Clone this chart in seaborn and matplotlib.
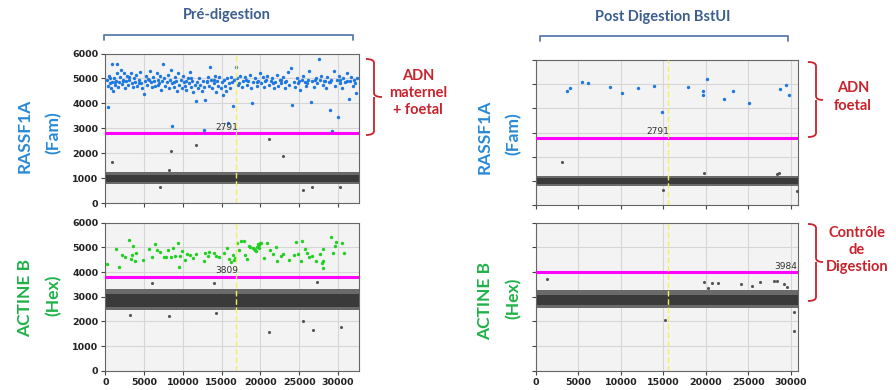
import matplotlib
matplotlib.use("Agg")
import matplotlib.pyplot as plt
import seaborn as sns
from matplotlib.path import Path
from matplotlib.patches import PathPatch
from matplotlib.lines import Line2D

# ---------------- data ----------------
x_ticks = [0, 5000, 10000, 15000, 20000, 25000, 30000]
y_ticks = [0, 1000, 2000, 3000, 4000, 5000, 6000]

# Pre-digestion, RASSF1A (Fam) positive droplets
pre_fam_pos_x = [200, 350, 420, 560, 700, 820, 900, 1000, 1100, 1200, 1350, 1450, 1550, 1650, 1800, 1900,
                 2000, 2100, 2250, 2400, 2550, 2650, 2800, 2950, 3100, 3250, 3400, 3550, 3700, 3850, 4000,
                 4150, 4300, 4450, 4600, 4750, 4990, 5100, 5250, 5400, 5550, 5700, 5850, 6000, 6150, 6300,
                 6450, 6600, 6750, 6900, 7050, 7200, 7350, 7480, 7600, 7750, 7900, 8050, 8200, 8350, 8500,
                 8650, 8800, 8950, 9100, 9250, 9400, 9550, 9700, 9850, 10000, 10150, 10300, 10450, 10600,
                 10750, 10900, 11050, 11200, 11350, 11500, 11660, 11800, 11950, 12100, 12250, 12400, 12550,
                 12700, 12900, 13050, 13200, 13350, 13500, 13650, 13800, 13950, 14100, 14250, 14400, 14550,
                 14700, 14850, 15000, 15150, 15300, 15450, 15600, 15750, 15900, 16050, 16200, 16350, 16510,
                 16650, 16830, 17000, 17200, 17400, 17600, 17800, 18000, 18200, 18400, 18600, 18800, 18960,
                 19100, 19300, 19500, 19700, 19900, 20100, 20300, 20500, 20700, 20900, 21100, 21300, 21500,
                 21700, 21900, 22100, 22300, 22500, 22700, 22900, 23100, 23300, 23500, 23700, 23900, 24120,
                 24300, 24500, 24700, 24900, 25100, 25300, 25500, 25700, 25900, 26100, 26300, 26500, 26700,
                 26900, 27100, 27300, 27480, 27650, 27800, 28000, 28200, 28400, 28600, 28800, 28990, 29100,
                 29280, 29450, 29600, 29800, 29930, 30100, 30300, 30500, 30700, 30900, 31100, 31350, 31500,
                 31700, 31900, 32100, 32340, 32500, 8560, 12730, 15790, 390,
                 600, 1300, 2300, 3000, 4400, 5600, 6800, 8900, 10400, 11100, 13100, 14000, 17100, 18100,
                 19600, 20600, 21600, 22600, 23200, 25000, 26000, 27000, 28300, 29000, 30200, 31200, 32200]
pre_fam_pos_y = [4950, 4700, 5100, 4800, 4600, 4850, 5566, 4500, 5000, 4750, 4900, 5200, 5566, 4650, 4850, 5050,
                 5330, 4780, 4950, 5200, 4600, 4880, 5100, 4720, 4950, 5200, 4800, 4650, 5000, 4850, 5150,
                 4700, 4950, 5250, 4800, 4600, 4378, 4900, 5100, 4750, 4980, 5300, 4850, 4650, 5050, 4900,
                 4700, 5200, 4950, 4800, 5100, 4550, 4880, 5566, 5000, 4700, 4850, 5150, 4600, 4950, 5330,
                 4800, 4650, 5050, 4900, 4500, 5200, 4750, 4950, 4600, 5100, 4850, 4700, 4550, 5000,
                 4800, 5250, 4650, 4900, 4450, 4750, 4107, 4850, 4600, 5000, 4750, 4500, 4900,
                 4650, 4130, 4850, 5050, 4700, 5460, 4950, 4600, 4800, 5100, 4450, 4900, 4700,
                 5050, 4600, 4850, 4350, 4950, 4700, 4500, 5000, 4800, 4600, 5050, 4850, 3905,
                 4950, 5460, 5000, 4800, 5100, 4650, 4900, 5050, 4750, 4900, 5150, 4600, 3997,
                 4850, 5000, 4700, 4900, 5200, 4800, 5050, 4650, 4950, 5100, 4750, 4900, 5000,
                 4600, 4850, 5150, 4700, 4950, 4800, 5050, 4600, 4900, 5250, 4750, 5400, 3932,
                 4850, 4650, 5000, 4800, 4550, 4950, 5100, 4850, 4700, 4950, 5300, 4040, 4900,
                 4650, 5000, 4800, 5768, 4950, 5100, 4750, 4900, 4600, 5050, 4850, 3730, 4950,
                 2890, 5300, 4700, 4950, 3432, 5100, 4800, 4600, 5000, 4850, 5200, 4175, 4900,
                 5050, 4700, 4950, 4405, 5000, 3093, 2918, 3230, 3860,
                 5000, 4850, 4900, 5050, 4800, 4950, 4750, 4850, 4900, 5000, 4900, 4950, 4750, 4950,
                 4850, 4900, 4800, 4950, 4850, 4900, 4800, 4950, 4900, 4850, 4950, 4900, 4800]
pre_fam_neg_x = [900, 8490, 11660, 21120, 22840, 25540, 26700, 30300, 7060, 8220]
pre_fam_neg_y = [1650, 2067, 2310, 2554, 1905, 527, 660, 640, 660, 1310]

# Pre-digestion, ACTINE B (Hex) positive droplets
pre_hex_pos_x = [260, 1380, 1760, 2150, 3060, 3320, 3590, 3480, 3960, 3880, 4810, 5670, 6010, 6440, 6660,
                 7520, 7820, 8080, 8470, 8730, 9030, 9370, 9480, 9650, 9870, 10210, 10510, 11290, 11670,
                 12750, 12880, 13180, 13400, 13960, 14600, 15250, 15680, 15900, 16410, 16540, 16670,
                 16970, 17190, 17490, 17840, 17970, 18270, 18490, 18700, 19220, 19350, 19570, 19700,
                 19870, 20000, 20130, 20440, 20870, 21210, 21640, 21990, 22160, 22590, 22940, 23670,
                 24620, 24880, 25400, 25270, 25790, 25960, 26310, 27170, 27730, 28030, 28120, 28120,
                 29110, 29330, 29670, 29760, 30490, 30710, 2600, 7000, 10900, 14300, 16200, 19100, 19450,
                 19800, 24300, 26600, 27900]
pre_hex_pos_y = [4324, 4919, 4216, 4690, 5297, 4513, 5054, 4690, 4784, 4460, 4486, 4919, 4620, 5149, 4892,
                 4595, 4620, 4890, 4620, 4960, 4650, 5189, 4216, 4662, 4865, 4486, 4716, 4554, 4730,
                 4460, 4784, 4662, 4824, 4757, 4595, 4757, 4959, 4513, 4690, 4486, 4581,
                 5162, 4892, 5257, 5257, 4690, 4513, 5067, 5000, 4919, 4892, 5027, 5135,
                 4960, 5162, 5189, 4554, 5162, 4892, 4730, 5027, 4460, 4650, 4716, 4486,
                 5230, 4730, 5257, 4460, 4919, 4784, 4595, 4460, 4730, 4919, 4460, 4149,
                 5405, 4757, 5054, 5230, 5162, 4757, 4600, 4820, 4700, 4650, 4420, 4980, 4850,
                 5080, 4700, 4640, 4380]
pre_hex_neg_x = [6070, 13960, 27260, 3150, 8190, 14210, 21160, 25520, 26770, 30330]
pre_hex_neg_y = [3568, 3568, 3608, 2257, 2230, 2351, 1581, 2027, 1649, 1757]

# Post digestion BstUI, RASSF1A (Fam)
post_fam_pos_x = [3690, 4000, 5460, 6170, 8720, 10100, 11990, 13950, 14900, 17850, 19620, 19730, 20130,
                  22100, 23200, 25080, 28780, 29410, 29800]
post_fam_pos_y = [4738, 4834, 5097, 5069, 4876, 4628, 4834, 4931, 3869, 4876, 4559, 4710, 5207,
                  4407, 4710, 4214, 4821, 4986, 4559]
post_fam_neg_x = [3100, 19800, 28580, 28400, 15000, 30700]
post_fam_neg_y = [1772, 1345, 1345, 1300, 630, 586]

# Post digestion BstUI, ACTINE B (Hex)
post_hex_neg_x = [1260, 15150, 19750, 20260, 20730, 21440, 24190, 25490, 26350, 28010, 28390, 29180,
                  29570, 30360, 30360]
post_hex_neg_y = [3716, 2054, 3595, 3338, 3541, 3554, 3527, 3446, 3581, 3622, 3635, 3500,
                  3405, 2365, 1608]

# Dense negative-droplet clusters: (outer low, outer high, core low, core high)
pre_fam_band = [760, 1260, 860, 1120]
pre_hex_band = [2460, 3330, 2600, 3120]
post_fam_band = [770, 1220, 850, 1100]
post_hex_band = [2530, 3270, 2660, 3060]

thresholds = [2791, 3809, 2791, 3984]
threshold_labels = ["2791", "3809", "2791", "3984"]
x_max = [32700, 32700, 30900, 30900]
cursor_x = [16900, 16900, 15500, 15500]

# ---------------- style ----------------
sns.set_theme(style="whitegrid")
plt.rcParams['font.family'] = ['Lato', 'DejaVu Sans']

W, H = 896, 390
fig = plt.figure(figsize=(W / 100, H / 100), dpi=100)
fig.patch.set_facecolor("white")


def ax_at(l, t, r, b):
    return fig.add_axes([l / W, 1 - b / H, (r - l) / W, (b - t) / H])


def px(x, y):
    return (x / W, 1 - y / H)


BLUE_PT = "#1f78e0"
GREEN_PT = "#22d022"
GREY_PT = "#555555"

axes = [ax_at(105.3, 53.5, 359, 203), ax_at(105.3, 222.7, 359, 370.7),
        ax_at(536, 60.2, 798.3, 205), ax_at(536, 222.7, 798.3, 370.7)]

pos_sets = [(pre_fam_pos_x, pre_fam_pos_y, BLUE_PT), (pre_hex_pos_x, pre_hex_pos_y, GREEN_PT),
            (post_fam_pos_x, post_fam_pos_y, BLUE_PT), ([], [], GREEN_PT)]
neg_sets = [(pre_fam_neg_x, pre_fam_neg_y), (pre_hex_neg_x, pre_hex_neg_y),
            (post_fam_neg_x, post_fam_neg_y), (post_hex_neg_x, post_hex_neg_y)]
bands = [pre_fam_band, pre_hex_band, post_fam_band, post_hex_band]
label_pos = [(15650, "center"), (15600, "center"), (14300, "center"), (30750, "right")]

for i, ax in enumerate(axes):
    ax.set_facecolor("#f3f3f3")
    ax.set_xlim(0, x_max[i])
    ax.set_ylim(0, 6000)
    ax.set_xticks(x_ticks)
    ax.set_yticks(y_ticks)
    ax.grid(True, color="#d6d6d6", linewidth=0.8)
    for s in ax.spines.values():
        s.set_color("#666666")
        s.set_linewidth(0.8)
    ax.tick_params(axis="both", which="both", direction="out", length=3, width=0.8,
                   color="#444444", labelsize=6.8, labelcolor="#222222", pad=2,
                   bottom=True, left=True)
    for lab in ax.get_xticklabels() + ax.get_yticklabels():
        lab.set_fontfamily("DejaVu Sans")
        lab.set_fontweight("bold")
    if i in (0, 2):
        ax.set_xticklabels([])
    if i in (2, 3):
        ax.set_yticklabels([])

    lo, hi, clo, chi = bands[i]
    ax.fill_between([0, x_max[i]], [lo, lo], [hi, hi], color="#6a6a6a", linewidth=0, zorder=2)
    ax.fill_between([0, x_max[i]], [clo, clo], [chi, chi], color="#3a3a3a", linewidth=0, zorder=2)

    nx, ny = neg_sets[i]
    sns.scatterplot(x=nx, y=ny, ax=ax, color=GREY_PT, s=5, linewidth=0, legend=False, zorder=3)
    pxs, pys, pc = pos_sets[i]
    if len(pxs):
        sns.scatterplot(x=pxs, y=pys, ax=ax, color=pc, s=6, linewidth=0, legend=False, zorder=3)

    ax.axhline(thresholds[i], color="#ff00ff", linewidth=2.2, zorder=4)
    ax.axvline(cursor_x[i], color="#f3ee6a", linewidth=1.0, linestyle=(0, (4, 2)), zorder=4)
    lx, ha = label_pos[i]
    ax.text(lx, thresholds[i] + 60, threshold_labels[i], ha=ha, va="bottom", fontsize=6.5,
            color="#333333", family="DejaVu Sans", zorder=5)
    ax.set_xlabel("")
    ax.set_ylabel("")

# ---------------- annotations ----------------
TITLE_C = "#3b5e8e"
fig.text(*px(227, 15), "Pré-digestion", ha="center", va="center", fontsize=10.5,
         fontweight="bold", color=TITLE_C)
fig.text(*px(663, 17), "Post Digestion BstUI", ha="center", va="center", fontsize=10.5,
         fontweight="bold", color=TITLE_C)

BR_C = "#5b7bb0"
for (x1, x2, yb) in [(103.5, 352.5, 35), (540, 787.5, 36)]:
    xs = [x1, x1, x2, x2]
    ys = [yb + 5, yb, yb, yb + 5]
    fig.add_artist(Line2D([x / W for x in xs], [1 - y / H for y in ys], color=BR_C,
                          linewidth=1.3, transform=fig.transFigure))

RED = "#c8232c"


def brace(x_in, x_mid, x_tip, y_top, y_mid, y_bot):
    r = 4
    verts = [(x_in, y_top), (x_mid, y_top), (x_mid, y_top + r),
             (x_mid, y_mid - r), (x_mid, y_mid), (x_tip, y_mid),
             (x_mid, y_mid), (x_mid, y_mid + r),
             (x_mid, y_bot - r), (x_mid, y_bot), (x_in, y_bot)]
    codes = [Path.MOVETO, Path.CURVE3, Path.CURVE3,
             Path.LINETO, Path.CURVE3, Path.CURVE3,
             Path.MOVETO, Path.CURVE3,
             Path.LINETO, Path.CURVE3, Path.CURVE3]
    verts = [(x / W, 1 - y / H) for x, y in verts]
    fig.add_artist(PathPatch(Path(verts, codes), facecolor="none", edgecolor=RED,
                             linewidth=1.3, transform=fig.transFigure))


brace(366, 374, 382, 59, 97, 135)
brace(808, 816, 823, 62, 100, 137)
brace(808, 816, 823, 224, 262, 301)

fig.text(*px(418, 93), "ADN\nmaternel\n+ foetal", ha="center", va="center", fontsize=10.5,
         fontweight="bold", color=RED, linespacing=1.3)
fig.text(*px(853, 97), "ADN\nfoetal", ha="center", va="center", fontsize=10.5,
         fontweight="bold", color=RED, linespacing=1.3)
fig.text(*px(857, 250), "Contrôle\nde\nDigestion", ha="center", va="center", fontsize=10.5,
         fontweight="bold", color=RED, linespacing=1.3)

FAM_C = "#2a8ad6"
HEX_C = "#20b24a"
for (xa, xb, y, name, ch, col) in [(25, 53, 136, "RASSF1A", "(Fam)", FAM_C),
                                   (25, 53, 298, "ACTINE B", "(Hex)", HEX_C),
                                   (485, 513, 137, "RASSF1A", "(Fam)", FAM_C),
                                   (485, 513, 301, "ACTINE B", "(Hex)", HEX_C)]:
    fig.text(*px(xa, y), name, rotation=90, ha="center", va="center", fontsize=12.5,
             fontweight="bold", color=col)
    fig.text(*px(xb, y - 3), ch, rotation=90, ha="center", va="center", fontsize=12.5,
             fontweight="bold", color=col)

fig.savefig("out.png", dpi=100)
